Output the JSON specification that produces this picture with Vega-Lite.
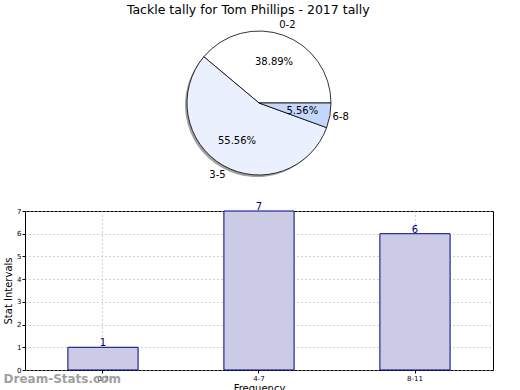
{
  "$schema": "https://vega.github.io/schema/vega-lite/v6.json",
  "padding": {"left": 3, "top": 3, "right": 0, "bottom": 0},
  "background": "white",
  "config": {
    "font": "DejaVu Sans",
    "view": {"stroke": null},
    "concat": {"spacing": 21}
  },
  "title": {"text": "Tackle tally for Tom Phillips - 2017 tally", "fontSize": 12.5, "fontWeight": "normal", "font": "DejaVu Sans", "color": "black", "anchor": "middle", "offset": 4},
  "vconcat": [
    {
      "width": 468,
      "height": 148,
      "data": {"values": [
        {"range": "0-2", "count": 7, "pct": "38.89%", "k": 3},
        {"range": "3-5", "count": 10, "pct": "55.56%", "k": 2},
        {"range": "6-8", "count": 1, "pct": "5.56%", "k": 1}
      ]},
      "encoding": {
        "theta": {"field": "count", "type": "quantitative", "stack": true, "scale": {"range": [1.5708, 7.854]}},
        "order": {"field": "k", "type": "quantitative"}
      },
      "layer": [
        {
          "mark": {"type": "arc", "outerRadius": 72, "fill": "#777777", "opacity": 0.7, "xOffset": -2, "yOffset": 2}
        },
        {
          "mark": {"type": "arc", "outerRadius": 72, "stroke": "black", "strokeWidth": 0.8},
          "encoding": {
            "color": {"field": "range", "type": "nominal", "legend": null,
              "scale": {"domain": ["0-2", "3-5", "6-8"], "range": ["#ffffff", "#eaf0fd", "#c5d8fc"]}}
          }
        },
        {
          "mark": {"type": "text", "radius": 44, "fontSize": 10, "color": "black"},
          "encoding": {"text": {"field": "pct"}}
        },
        {
          "mark": {"type": "text", "radius": 83, "fontSize": 10, "color": "black"},
          "encoding": {"text": {"field": "range"}}
        }
      ]
    },
    {
      "width": 468,
      "height": 159,
      "data": {"values": [
        {"bin": "0-3", "n": 1},
        {"bin": "4-7", "n": 7},
        {"bin": "8-11", "n": 6}
      ]},
      "view": {"stroke": "black", "strokeWidth": 1},
      "title": {"text": "Dream-Stats.com", "orient": "bottom", "anchor": "start", "frame": "bounds", "fontSize": 12, "fontWeight": "bold", "color": "#a0a0a0", "offset": 0, "dy": -19},
      "encoding": {
        "x": {"field": "bin", "type": "nominal", "sort": null,
          "scale": {"paddingInner": 0.55, "paddingOuter": 0.275},
          "axis": {"title": "Frequency", "titleFontSize": 10, "titleFontWeight": "normal", "titlePadding": 2, "labelAngle": 0, "labelFontSize": 7, "labelColor": "black", "labelPadding": 1, "tickSize": 3, "tickColor": "black", "domain": false,
            "grid": true, "gridDash": [1, 3], "gridColor": "#a8a8a8", "bandPosition": 0.5}},
        "y": {"field": "n", "type": "quantitative",
          "scale": {"domain": [0, 7], "nice": false},
          "axis": {"title": "Stat Intervals", "titleFontSize": 10, "titleFontWeight": "normal", "titlePadding": 3, "values": [0, 1, 2, 3, 4, 5, 6, 7], "labelFontSize": 7, "labelColor": "black", "labelPadding": 1, "tickSize": 3, "tickColor": "black", "domain": false,
            "grid": true, "gridDash": [1, 3], "gridColor": "#a8a8a8"}}
      },
      "layer": [
        {"mark": {"type": "bar", "fill": "#cbcbe5", "stroke": "#000080", "strokeWidth": 1}},
        {"mark": {"type": "text", "baseline": "bottom", "dy": 1, "fontSize": 10, "color": "#000080"},
          "encoding": {"text": {"field": "n"}}}
      ]
    }
  ]
}
